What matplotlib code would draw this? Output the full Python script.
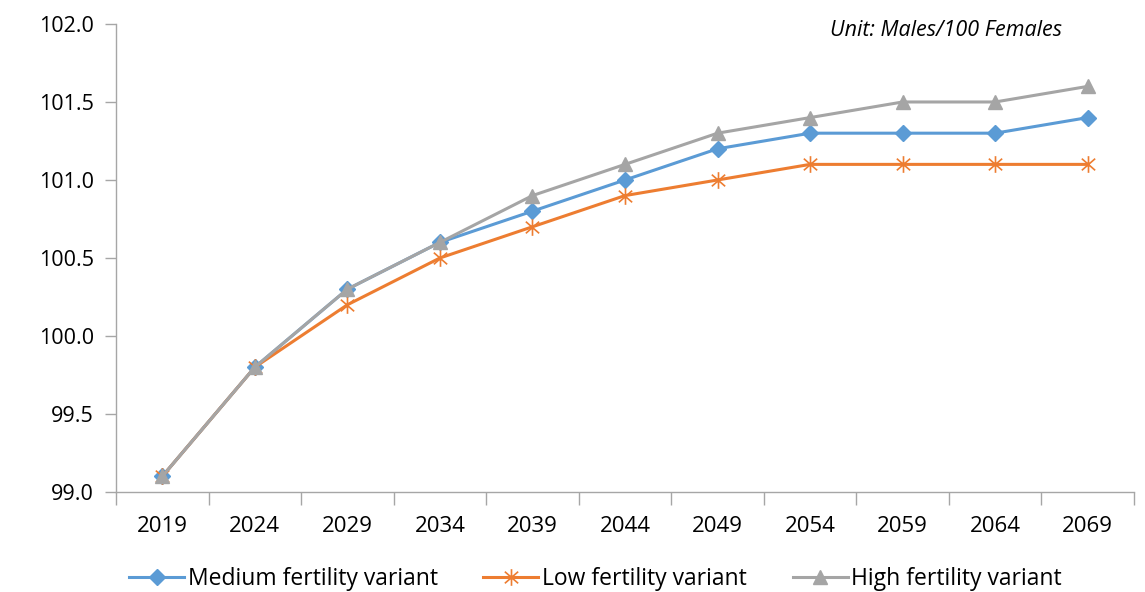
import matplotlib

matplotlib.use("Agg")
import matplotlib.pyplot as plt
import numpy as np
from matplotlib.path import Path

years = ["2019", "2024", "2029", "2034", "2039", "2044", "2049", "2054", "2059", "2064", "2069"]
medium = [99.1, 99.8, 100.3, 100.6, 100.8, 101.0, 101.2, 101.3, 101.3, 101.3, 101.4]
low = [99.1, 99.8, 100.2, 100.5, 100.7, 100.9, 101.0, 101.1, 101.1, 101.1, 101.1]
high = [99.1, 99.8, 100.3, 100.6, 100.9, 101.1, 101.3, 101.4, 101.5, 101.5, 101.6]

plt.rcParams["font.family"] = ["Open Sans", "DejaVu Sans"]

# excel-style star: an X with a vertical stroke through it
star = Path(
    [(0, -1), (0, 1), (-0.8, -0.7), (0.8, 0.7), (-0.8, 0.7), (0.8, -0.7)],
    [Path.MOVETO, Path.LINETO, Path.MOVETO, Path.LINETO, Path.MOVETO, Path.LINETO],
)

fig = plt.figure(figsize=(11.45, 5.92), dpi=100)
ax = fig.add_axes([0.1013, 0.1689, 0.8891, 0.7906])

x = np.arange(len(years))
ax.plot(x, medium, color="#5B9BD5", lw=2.2, marker="D", ms=8, label="Medium fertility variant")
ax.plot(x, low, color="#ED7D31", lw=2.2, marker=star, ms=12, mew=1.2, label="Low fertility variant")
ax.plot(x, high, color="#A5A5A5", lw=2.2, marker="^", ms=10, label="High fertility variant")

ax.set_xlim(-0.5, len(years) - 0.5)
ax.set_ylim(99.0, 102.0)
yt = np.arange(99.0, 102.01, 0.5)
ax.set_yticks(yt)
ax.set_yticklabels([f"{v:.1f}" for v in yt])
ax.set_xticks(x)
ax.set_xticklabels(years)
ax.set_xticks(np.arange(-0.5, len(years), 1.0), minor=True)
ax.tick_params(axis="x", which="major", length=0, pad=17, labelsize=16)
ax.tick_params(axis="x", which="minor", length=9, color="#A6A6A6", width=1)
ax.tick_params(axis="y", length=8, color="#A6A6A6", width=1, pad=8, labelsize=15.5)

for s in ["top", "right"]:
    ax.spines[s].set_visible(False)
for s in ["left", "bottom"]:
    ax.spines[s].set_color("#A6A6A6")
    ax.spines[s].set_linewidth(1)

ax.text(0.929, 0.987, "Unit: Males/100 Females", transform=ax.transAxes, ha="right", va="center",
        fontsize=15.5, style="italic")

fig.legend(loc="center", bbox_to_anchor=(0.52, 0.022), ncol=3, frameon=False, fontsize=16.5,
           handlelength=2.4, columnspacing=2.0, handletextpad=0.15)

fig.savefig("out.png", dpi=100)
